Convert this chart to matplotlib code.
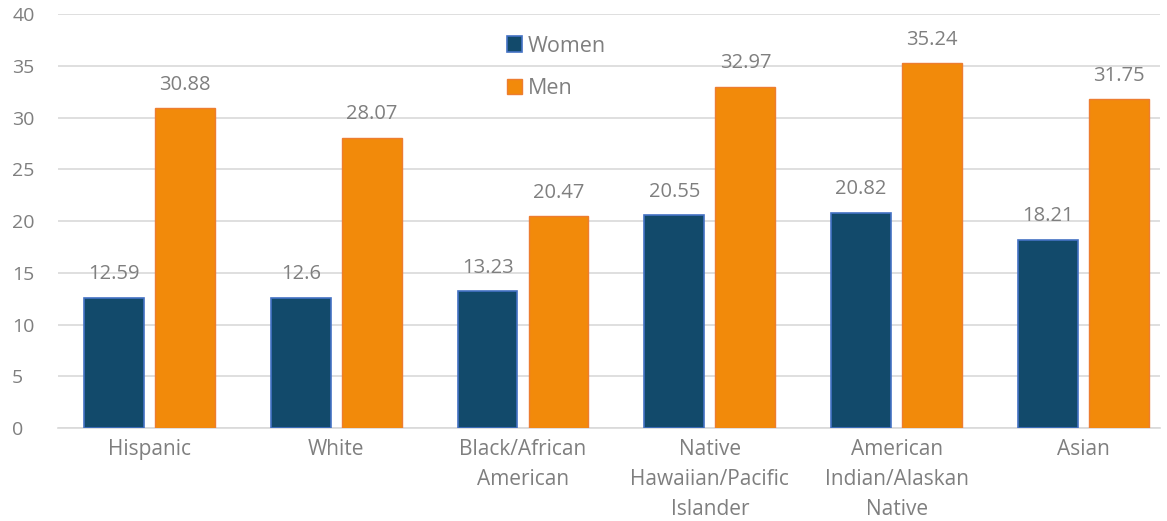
import matplotlib
matplotlib.use("Agg")
import matplotlib.pyplot as plt
import numpy as np

categories = ["Hispanic", "White", "Black/African\nAmerican", "Native\nHawaiian/Pacific\nIslander",
              "American\nIndian/Alaskan\nNative", "Asian"]
women = [12.59, 12.6, 13.23, 20.55, 20.82, 18.21]
men = [30.88, 28.07, 20.47, 32.97, 35.24, 31.75]
women_labels = ["12.59", "12.6", "13.23", "20.55", "20.82", "18.21"]
men_labels = ["30.88", "28.07", "20.47", "32.97", "35.24", "31.75"]
yticks = [0, 5, 10, 15, 20, 25, 30, 35, 40]

plt.rcParams['font.family'] = ['Open Sans', 'DejaVu Sans']
gray = "#7f7f7f"
c_w, e_w = "#124a6b", "#4472c4"
c_m, e_m = "#f28a0a", "#ed7d31"

fig = plt.figure(figsize=(11.67, 5.21), dpi=100)
ax = fig.add_axes([0.0497, 0.1785, 0.9443, 0.7945])

x = np.arange(len(categories))
w = 0.32
ax.bar(x - 0.19, women, w, color=c_w, edgecolor=e_w, linewidth=1.2, label="Women", zorder=3)
ax.bar(x + 0.19, men, w, color=c_m, edgecolor=e_m, linewidth=1.0, label="Men", zorder=3)

for xi, v, t in zip(x - 0.19, women, women_labels):
    ax.text(xi, v + 1.3, t, ha="center", va="bottom", fontsize=14.5, color=gray)
for xi, v, t in zip(x + 0.19, men, men_labels):
    ax.text(xi, v + 1.3, t, ha="center", va="bottom", fontsize=14.5, color=gray)

ax.set_ylim(0, 40)
ax.set_xlim(-0.49, 5.41)
ax.set_yticks(yticks)
ax.set_xticks(x)
ax.set_xticklabels(categories, fontsize=15, color=gray, linespacing=1.55)
ax.tick_params(axis="y", labelsize=14, labelcolor=gray, length=0, pad=33)
ax.tick_params(axis="x", length=0, pad=8)
for lab in ax.get_yticklabels():
    lab.set_horizontalalignment("left")
ax.grid(axis="y", color="#d9d9d9", linewidth=1.2, zorder=0)
for s in ["top", "right", "left"]:
    ax.spines[s].set_visible(False)
ax.spines["bottom"].set_color("#d9d9d9")
ax.spines["bottom"].set_linewidth(1.2)

ax.legend(loc="upper left", bbox_to_anchor=(0.39, 0.995), frameon=False, fontsize=15.5,
          labelspacing=1.0, handlelength=0.7, handleheight=0.7, handletextpad=0.25,
          labelcolor=gray)

fig.savefig("out.png", dpi=100)
